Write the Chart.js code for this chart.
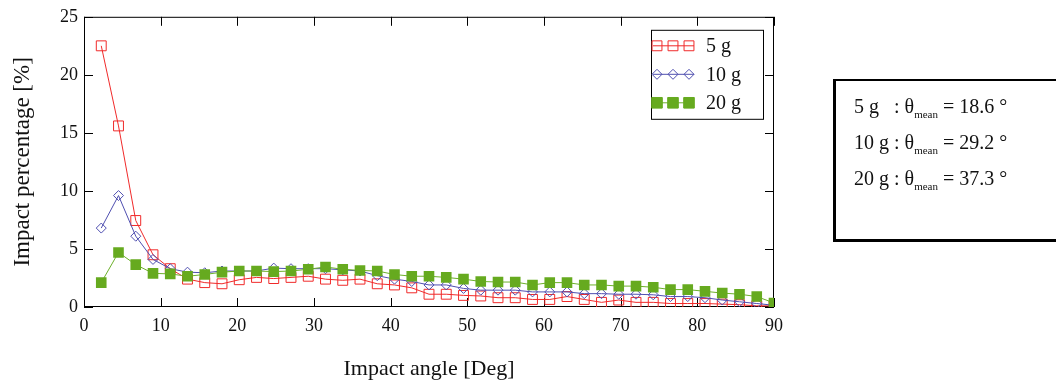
<!DOCTYPE html>
<html lang="en">
<head>
    <meta charset="UTF-8">
    <title>Impact angle distribution</title>
    <script src="https://cdn.jsdelivr.net/npm/chart.js"></script>
    <style>
        body { margin: 0; background: #fff; }
        .wrap { position: relative; width: 1056px; height: 385px; overflow: hidden; }
        #note {
            position: absolute; left: 833px; top: 79px; width: 260px; height: 151px;
            border-left: 3px solid #000; border-top: 2px solid #000; border-bottom: 3px solid #000;
            padding: 7px 0 0 18px; box-sizing: content-box;
            font-family: "Liberation Serif", serif; font-size: 20px; line-height: 36px; color: #111;
        }
        #note sub { font-size: 11px; line-height: 0; vertical-align: -5px; }
    </style>
</head>
<body>
<div class="wrap">
    <canvas id="impactChart" width="1056" height="385"></canvas>
    <div id="note">
        <div>5 g&nbsp;&nbsp; : θ<sub>mean</sub> = 18.6 °</div>
        <div>10 g : θ<sub>mean</sub> = 29.2 °</div>
        <div>20 g : θ<sub>mean</sub> = 37.3 °</div>
    </div>
</div>

<script>
    // impact angle (deg) of each bin
    const angles = [2.25, 4.5, 6.75, 9, 11.25, 13.5, 15.75, 18, 20.25, 22.5,
                    24.75, 27, 29.25, 31.5, 33.75, 36, 38.25, 40.5, 42.75, 45,
                    47.25, 49.5, 51.75, 54, 56.25, 58.5, 60.75, 63, 65.25, 67.5,
                    69.75, 72, 74.25, 76.5, 78.75, 81, 83.25, 85.5, 87.75, 90];

    // impact percentage [%]
    const pct5g  = [22.5, 15.6, 7.45, 4.5, 3.3, 2.4, 2.1, 2.0, 2.35, 2.55,
                    2.45, 2.55, 2.65, 2.4, 2.3, 2.4, 2.0, 1.9, 1.65, 1.1,
                    1.1, 1.0, 0.95, 0.8, 0.8, 0.65, 0.65, 0.9, 0.65, 0.4,
                    0.6, 0.4, 0.4, 0.3, 0.3, 0.3, 0.25, 0.2, 0.1, 0.1];
    const pct10g = [6.8, 9.6, 6.1, 4.1, 3.3, 3.0, 2.95, 3.1, 3.1, 3.1,
                    3.35, 3.3, 3.3, 3.3, 3.2, 3.1, 2.7, 2.4, 2.2, 1.9,
                    1.9, 1.6, 1.45, 1.45, 1.45, 1.3, 1.3, 1.3, 1.15, 1.15,
                    1.1, 1.1, 1.05, 0.9, 0.9, 0.8, 0.6, 0.45, 0.3, 0.15];
    const pct20g = [2.1, 4.7, 3.65, 2.9, 2.85, 2.65, 2.8, 3.0, 3.1, 3.1,
                    3.05, 3.1, 3.25, 3.45, 3.25, 3.15, 3.1, 2.8, 2.65, 2.65,
                    2.55, 2.4, 2.2, 2.15, 2.15, 1.9, 2.1, 2.1, 1.9, 1.9,
                    1.8, 1.8, 1.7, 1.5, 1.5, 1.35, 1.2, 1.1, 0.9, 0.35];

    const xTicks = [0, 10, 20, 30, 40, 50, 60, 70, 80, 90];
    const yTicks = [0, 5, 10, 15, 20, 25];

    const serif = "'Liberation Serif', 'Times New Roman', serif";
    const clear = 'rgba(0,0,0,0)';

    function pts(vals) {
        return vals.map((v, i) => ({ x: angles[i], y: v }));
    }

    // box + inward tick marks on all four sides
    const frame = {
        id: 'frame',
        beforeDatasetsDraw(chart) {
            const { ctx, chartArea: a, scales: { x, y } } = chart;
            ctx.save();
            ctx.strokeStyle = '#000';
            ctx.lineWidth = 1;
            ctx.strokeRect(a.left + 0.5, a.top + 0.5, a.right - a.left - 1, a.bottom - a.top - 1);
            ctx.beginPath();
            xTicks.forEach(t => {
                const px = Math.round(x.getPixelForValue(t)) + 0.5;
                ctx.moveTo(px, a.bottom); ctx.lineTo(px, a.bottom - 9);
                ctx.moveTo(px, a.top); ctx.lineTo(px, a.top + 9);
            });
            yTicks.forEach(t => {
                const py = Math.round(y.getPixelForValue(t)) + 0.5;
                ctx.moveTo(a.left, py); ctx.lineTo(a.left + 9, py);
                ctx.moveTo(a.right, py); ctx.lineTo(a.right - 9, py);
            });
            ctx.stroke();
            ctx.restore();
        },
        afterDraw(chart) {
            // legend box in the upper right of the plot
            const { ctx, chartArea: a } = chart;
            const bx = a.right - 123, by = a.top + 13;
            ctx.save();
            ctx.fillStyle = '#fff';
            ctx.fillRect(bx, by, 112, 89);
            ctx.strokeStyle = '#000';
            ctx.lineWidth = 1;
            ctx.strokeRect(bx + 0.5, by + 0.5, 112, 89);
            chart.data.datasets.slice().sort((p, q) => p.legendRow - q.legendRow).forEach((ds, i) => {
                const ry = by + 16 + i * 28.5;
                ctx.strokeStyle = ds.borderColor;
                ctx.lineWidth = 1;
                ctx.beginPath();
                ctx.moveTo(bx + 2, ry); ctx.lineTo(bx + 43, ry);
                ctx.stroke();
                [6, 22, 38].forEach(dx => {
                    ctx.fillStyle = ds.pointBackgroundColor;
                    ctx.strokeStyle = ds.pointBorderColor;
                    Chart.helpers.drawPoint(ctx, {
                        pointStyle: ds.pointStyle, radius: ds.pointRadius,
                        rotation: 0, borderWidth: 1
                    }, bx + dx, ry);
                });
                ctx.fillStyle = '#111';
                ctx.font = '20px ' + serif;
                ctx.textBaseline = 'middle';
                ctx.fillText(ds.label, bx + 55, ry + 1);
            });
            ctx.restore();
        }
    };

    new Chart(document.getElementById('impactChart'), {
        type: 'line',
        data: {
            datasets: [
                { label: '5 g', legendRow: 0, order: 3, data: pts(pct5g),
                  borderColor: '#f02a2a', borderWidth: 1,
                  pointStyle: 'rect', pointRadius: 7, pointBorderWidth: 1,
                  pointBorderColor: '#f02a2a', pointBackgroundColor: clear },
                { label: '10 g', legendRow: 1, order: 2, data: pts(pct10g),
                  borderColor: '#4f4fb0', borderWidth: 1,
                  pointStyle: 'rectRot', pointRadius: 5, pointBorderWidth: 1,
                  pointBorderColor: '#4f4fb0', pointBackgroundColor: clear },
                { label: '20 g', legendRow: 2, order: 1, data: pts(pct20g),
                  borderColor: '#6cb02a', borderWidth: 1,
                  pointStyle: 'rect', pointRadius: 7.5, pointBorderWidth: 0,
                  pointBorderColor: '#66aa1f', pointBackgroundColor: '#66aa1f' }
            ]
        },
        options: {
            responsive: false,
            animation: false,
            layout: { padding: { left: 0, top: 15, right: 282, bottom: 0 } },
            plugins: { legend: { display: false }, tooltip: { enabled: false } },
            scales: {
                x: {
                    type: 'linear', min: 0, max: 90,
                    afterBuildTicks: s => { s.ticks = xTicks.map(v => ({ value: v })); },
                    afterFit: s => { s.height = 78; },
                    grid: { display: false, drawTicks: false },
                    border: { display: false },
                    ticks: { padding: 8, color: '#111', maxRotation: 0, font: { family: serif, size: 18 } },
                    title: { display: true, text: 'Impact angle [Deg]', color: '#111',
                             padding: { top: 0, bottom: 3 }, font: { family: serif, size: 22 } }
                },
                y: {
                    min: 0, max: 25,
                    afterBuildTicks: s => { s.ticks = yTicks.map(v => ({ value: v })); },
                    afterFit: s => { s.width = 84; },
                    grid: { display: false, drawTicks: false },
                    border: { display: false },
                    ticks: { padding: 6, color: '#111', font: { family: serif, size: 18 } },
                    title: { display: true, text: 'Impact percentage [%]', color: '#111',
                             padding: { top: 9, bottom: 0 }, font: { family: serif, size: 23 } }
                }
            }
        },
        plugins: [frame]
    });
</script>
</body>
</html>
